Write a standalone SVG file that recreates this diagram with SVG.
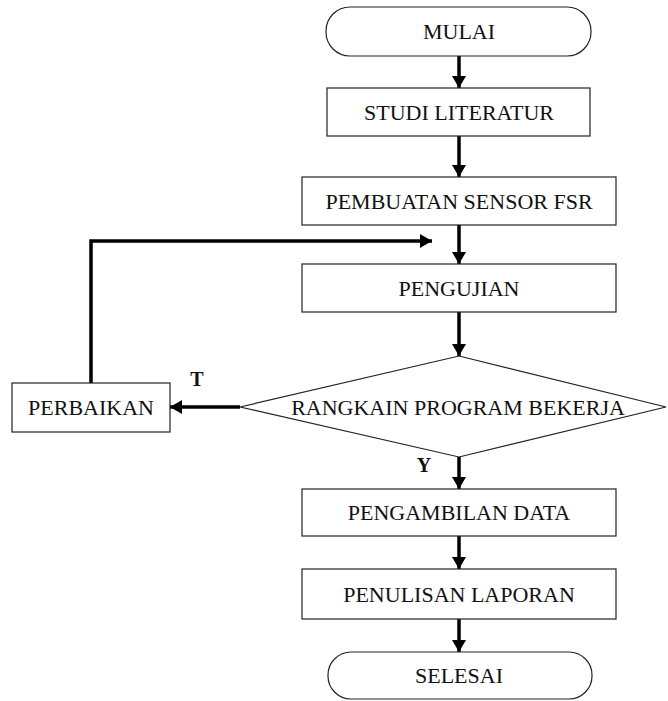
<svg xmlns="http://www.w3.org/2000/svg" width="668" height="701" viewBox="0 0 668 701">
<defs>
<style>
.box{fill:#fff;stroke:#222;stroke-width:1.2}
.t{font-family:"Liberation Serif","Times New Roman",serif;font-size:22px;fill:#111;text-anchor:middle}
.lbl{font-family:"Liberation Serif","Times New Roman",serif;font-size:20px;font-weight:bold;fill:#111;text-anchor:middle}
.c{fill:none;stroke:#000;stroke-width:3.5}
</style>
<marker id="ah" markerWidth="12" markerHeight="14" refX="12" refY="7" orient="auto" markerUnits="userSpaceOnUse">
<path d="M0,0 L12,7 L0,14 Z" fill="#000"/>
</marker>
</defs>
<rect width="668" height="701" fill="#fff"/>
<g id="connectors">
<line class="c" x1="459" y1="56" x2="459" y2="88" marker-end="url(#ah)"/>
<line class="c" x1="459" y1="136" x2="459" y2="177" marker-end="url(#ah)"/>
<line class="c" x1="459" y1="225" x2="459" y2="264" marker-end="url(#ah)"/>
<line class="c" x1="459" y1="312" x2="459" y2="356" marker-end="url(#ah)"/>
<line class="c" x1="459" y1="457" x2="459" y2="489" marker-end="url(#ah)"/>
<line class="c" x1="459" y1="536" x2="459" y2="569" marker-end="url(#ah)"/>
<line class="c" x1="459" y1="619" x2="459" y2="652" marker-end="url(#ah)"/>
<line class="c" x1="240" y1="407" x2="170" y2="407" marker-end="url(#ah)"/>
<polyline class="c" points="91,383 91,241 432,241" marker-end="url(#ah)"/>
<text class="lbl" x="197" y="386">T</text>
<text class="lbl" x="424" y="472">Y</text>
</g>
<g id="mulai">
<rect class="box" x="326" y="7" width="265" height="49" rx="24" ry="24"/>
<text class="t" x="459" y="39">MULAI</text>
</g>
<g id="studi">
<rect class="box" x="327" y="88" width="263" height="48"/>
<text class="t" x="459" y="119.5">STUDI LITERATUR</text>
</g>
<g id="pembuatan">
<rect class="box" x="302" y="177" width="314" height="48"/>
<text class="t" x="459" y="208.5">PEMBUATAN SENSOR FSR</text>
</g>
<g id="pengujian">
<rect class="box" x="302" y="264" width="314" height="48"/>
<text class="t" x="459" y="295.5">PENGUJIAN</text>
</g>
<g id="rangkain">
<polygon class="box" points="459,356 666,407 459,457 240,407"/>
<text class="t" x="458" y="414.5">RANGKAIN PROGRAM BEKERJA</text>
</g>
<g id="perbaikan">
<rect class="box" x="12" y="383" width="158" height="49"/>
<text class="t" x="91" y="415">PERBAIKAN</text>
</g>
<g id="pengambilan">
<rect class="box" x="302" y="489" width="314" height="47"/>
<text class="t" x="459" y="520">PENGAMBILAN DATA</text>
</g>
<g id="penulisan">
<rect class="box" x="302" y="569" width="314" height="50"/>
<text class="t" x="459" y="601.5">PENULISAN LAPORAN</text>
</g>
<g id="selesai">
<rect class="box" x="328" y="652" width="264" height="47" rx="23" ry="23"/>
<text class="t" x="459" y="683">SELESAI</text>
</g>
</svg>
